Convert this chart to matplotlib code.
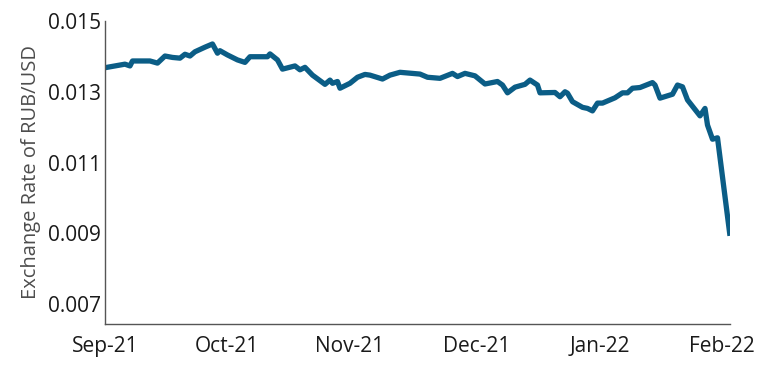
import matplotlib
matplotlib.use("Agg")
import matplotlib.pyplot as plt

obs = [0, 8, 10, 11, 18, 21, 24, 27, 30, 32, 34, 36, 40, 43, 45, 46, 49, 53, 56, 58,
       65, 66, 69, 71, 76, 78, 80, 83, 88, 90, 91, 93, 94, 98, 101, 104, 106, 111, 114, 118,
       126, 129, 134, 139, 141, 144, 148, 152, 157, 159, 161, 164, 168, 170, 173, 174, 180, 182, 184, 185,
       187, 191, 193, 195, 197, 199, 204, 207, 209, 211, 214, 219, 220, 222, 227, 229, 231, 233, 238, 240,
       241, 243, 245, 250]
rate = [0.01368, 0.01378, 0.01373, 0.01387, 0.01387, 0.01381, 0.01401, 0.01397, 0.01395, 0.01406,
        0.01401, 0.01413, 0.01426, 0.01435, 0.01409, 0.01416, 0.01404, 0.01390, 0.01383, 0.01399,
        0.01399, 0.01407, 0.01390, 0.01364, 0.01373, 0.01362, 0.01369, 0.01347, 0.01321, 0.01333,
        0.01324, 0.01329, 0.01310, 0.01324, 0.01341, 0.01349, 0.01347, 0.01336, 0.01347, 0.01355,
        0.01350, 0.01341, 0.01338, 0.01352, 0.01343, 0.01352, 0.01345, 0.01322, 0.01329, 0.01319,
        0.01297, 0.01313, 0.01321, 0.01333, 0.01319, 0.01297, 0.01298, 0.01286, 0.01300, 0.01296,
        0.01272, 0.01256, 0.01253, 0.01246, 0.01268, 0.01268, 0.01283, 0.01297, 0.01297, 0.01310,
        0.01312, 0.01326, 0.01319, 0.01282, 0.01293, 0.01319, 0.01314, 0.01277, 0.01232, 0.01253,
        0.01206, 0.01166, 0.01170, 0.00893]

month_pos = [0, 48.8, 98, 148.8, 198, 246.8]
month_labels = ["Sep-21", "Oct-21", "Nov-21", "Dec-21", "Jan-22", "Feb-22"]
y_ticks = [0.007, 0.009, 0.011, 0.013, 0.015]

plt.rcParams["font.family"] = ["Open Sans", "DejaVu Sans"]

fig = plt.figure(figsize=(7.64, 3.68), dpi=100)
ax = fig.add_axes([0.1374, 0.1196, 0.8181, 0.8234])

ax.plot(obs, rate, color="#0b5d86", linewidth=3.8, solid_joinstyle="round",
        solid_capstyle="butt")

ax.set_xlim(0, 250)
ax.set_ylim(0.00644, 0.015)
ax.set_xticks(month_pos)
ax.set_xticklabels(month_labels)
ax.set_yticks(y_ticks)
ax.set_yticklabels([f"{v:.3f}" for v in y_ticks])
ax.tick_params(axis="both", length=0, labelsize=15, colors="#1a1a1a")
ax.tick_params(axis="x", pad=9)
ax.tick_params(axis="y", pad=3)

ax.set_ylabel("Exchange Rate of RUB/USD", fontsize=14.5, color="#4d4d4d", labelpad=5)

ax.spines[["top", "right"]].set_visible(False)
for s in ["left", "bottom"]:
    ax.spines[s].set_color("#555555")
    ax.spines[s].set_linewidth(1.0)

fig.savefig("out.png", dpi=100, facecolor="white")
